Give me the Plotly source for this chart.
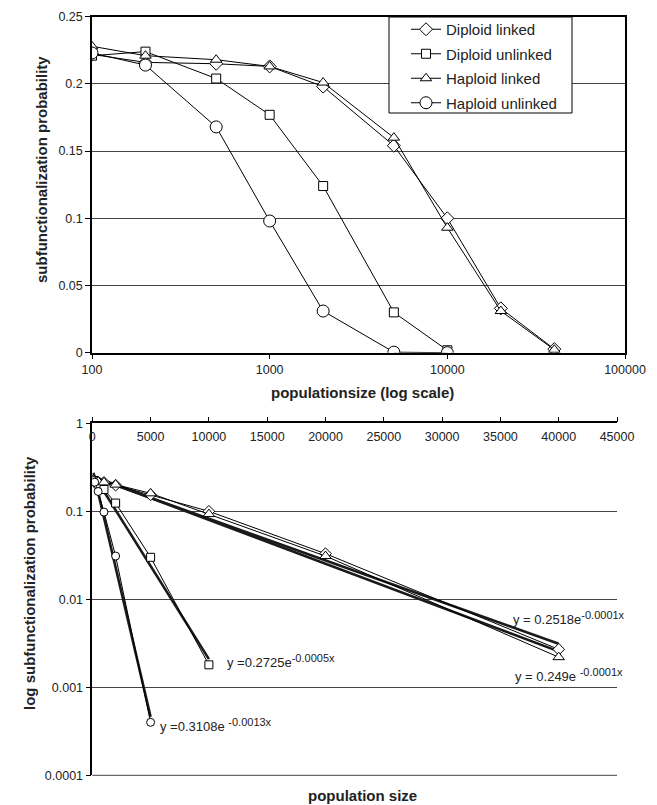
import numpy as np
import plotly.graph_objects as go

# ---------------- data ----------------
pop_linked = [100, 200, 500, 1000, 2000, 5000, 10000, 20000, 40000]
diploid_linked = [0.222, 0.216, 0.215, 0.213, 0.198, 0.154, 0.100, 0.033, 0.0027]
haploid_linked = [0.228, 0.221, 0.218, 0.213, 0.201, 0.160, 0.093, 0.031, 0.0022]

pop_unlinked = [100, 200, 500, 1000, 2000, 5000, 10000]
diploid_unlinked = [0.221, 0.224, 0.204, 0.177, 0.124, 0.030, 0.0018]
haploid_unlinked = [0.223, 0.214, 0.168, 0.098, 0.031, 0.0004, 0.0]

series_names = ["Diploid linked", "Diploid unlinked", "Haploid linked", "Haploid unlinked"]
top_xticks = [100, 1000, 10000, 100000]
top_xticklabels = ["100", "1000", "10000", "100000"]
bottom_yticks = [0.0001, 0.001, 0.01, 0.1, 1]
bottom_yticklabels = ["0.0001", "0.001", "0.01", "0.1", "1"]
trend_bases = ["y = 0.2518e", "y =0.2725e", "y = 0.249e ", "y =0.3108e "]
trend_exponents = ["-0.0001x", "-0.0005x", "-0.0001x", "-0.0013x"]

# page has an 8px body margin: figure pixel = screen pixel - 8
OFF = 8
W, H = 657 - OFF, 805 - OFF
FONT = "Liberation Sans, Arial, sans-serif"


def px_x(p):
    return (p - OFF) / W


def px_y(p):
    return 1 - (p - OFF) / H


xs = [pop_linked, pop_unlinked, pop_linked, pop_unlinked]
ys = [diploid_linked, diploid_unlinked, haploid_linked, haploid_unlinked]
symbols = ["diamond", "square", "triangle-up", "circle"]
top_sizes = [10, 9, 10, 12]
bot_sizes = [9, 8, 10, 8]

fig = go.Figure()

# ---------------- top chart ----------------
for name, x, y, sym, sz in zip(series_names, xs, ys, symbols, top_sizes):
    fig.add_trace(go.Scatter(
        x=x, y=y, name=name, mode="lines+markers", xaxis="x", yaxis="y",
        line=dict(color="black", width=1),
        marker=dict(symbol=sym, size=sz, color="white", line=dict(color="black", width=1)),
        legendgroup=name, showlegend=True,
    ))

# ---------------- bottom chart: exponential trendlines (least squares on ln y) ----------------
for name, x, y in zip(series_names, xs, ys):
    xa = np.array(x, dtype=float)
    ya = np.array(y, dtype=float)
    m = ya > 0
    b, a = np.polyfit(xa[m], np.log(ya[m]), 1)
    xt = np.linspace(xa[m].min(), xa[m].max(), 50)
    fig.add_trace(go.Scatter(
        x=xt, y=np.exp(a) * np.exp(b * xt), mode="lines", xaxis="x2", yaxis="y2",
        line=dict(color="#1a1a1a", width=2.6), showlegend=False, hoverinfo="skip",
    ))

# ---------------- bottom chart: data ----------------
for name, x, y, sym, sz in zip(series_names, xs, ys, symbols, bot_sizes):
    xa = np.array(x, dtype=float)
    ya = np.array(y, dtype=float)
    m = ya > 0
    fig.add_trace(go.Scatter(
        x=xa[m], y=ya[m], name=name, mode="lines+markers", xaxis="x2", yaxis="y2",
        line=dict(color="black", width=1),
        marker=dict(symbol=sym, size=sz, color="white", line=dict(color="black", width=1)),
        showlegend=False,
    ))

axis_common = dict(
    showline=True, linecolor="black", linewidth=1.5, automargin=False,
    ticks="outside", ticklen=5, tickcolor="black", tickwidth=1,
    tickfont=dict(family=FONT, size=12.5, color="#222"),
    zeroline=False,
)

fig.update_layout(
    template="none",
    width=W, height=H,
    margin=dict(l=0, r=0, t=0, b=0, pad=0),
    paper_bgcolor="white", plot_bgcolor="white",
    font=dict(family=FONT, color="#222"),
    xaxis=dict(
        domain=[px_x(92), px_x(625)], anchor="y", type="log", range=[2, 5],
        tickvals=top_xticks, ticktext=top_xticklabels, showgrid=False,
        mirror=True, **axis_common,
    ),
    yaxis=dict(
        domain=[px_y(352.7), px_y(16.7)], anchor="x", range=[0, 0.25], dtick=0.05,
        showgrid=True, gridcolor="#444", gridwidth=1, mirror=True, **axis_common,
    ),
    xaxis2=dict(
        domain=[px_x(92.3), px_x(617)], anchor="y2", range=[0, 45000], dtick=5000,
        tickformat="d", side="top", ticklabelposition="inside", ticklabeloverflow="allow",
        ticklabelstandoff=9, showgrid=False, **axis_common,
    ),
    yaxis2=dict(
        domain=[px_y(775.3), px_y(423.3)], anchor="x2", type="log", range=[-4, 0],
        tickvals=bottom_yticks, ticktext=bottom_yticklabels, ticklabeloverflow="allow",
        showgrid=True, gridcolor="#444", gridwidth=1, **axis_common,
    ),
    showlegend=True,
    legend=dict(
        x=px_x(406), y=px_y(13), xanchor="left", yanchor="top",
        bgcolor="rgba(0,0,0,0)", borderwidth=0,
        font=dict(family=FONT, size=15, color="#222"),
        tracegroupgap=2,
    ),
    shapes=[
        dict(type="rect", xref="paper", yref="paper",
             x0=px_x(389), x1=px_x(572), y0=px_y(113), y1=px_y(17),
             fillcolor="white", line=dict(color="black", width=1), layer="above"),
        dict(type="line", xref="paper", yref="paper",
             x0=px_x(92.3), x1=px_x(617), y0=px_y(775.3), y1=px_y(775.3),
             line=dict(color="#444", width=1)),
    ],
)

title_font = dict(family=FONT, size=15, color="#222")
annotations = [
    dict(text="<b>subfunctionalization probability</b>", x=px_x(42), y=px_y(170),
         textangle=-90, font=title_font),
    dict(text="<b>populationsize (log scale)</b>", x=px_x(362), y=px_y(392), font=title_font),
    dict(text="<b>log subfunctionalization probability</b>", x=px_x(29), y=px_y(583),
         textangle=-90, font=title_font),
    dict(text="<b>population size</b>", x=px_x(362), y=px_y(795), font=title_font),
]
for a in annotations:
    a["xanchor"] = "center"
    a["yanchor"] = "middle"
eq_pos = [(511, 618), (225, 661), (513, 675), (158, 725)]
for base, expo, (ex, ey) in zip(trend_bases, trend_exponents, eq_pos):
    txt = base + "<sup><span style='font-size:11px'>" + expo + "</span></sup>"
    annotations.append(dict(text=txt, x=px_x(ex), y=px_y(ey), xanchor="left", yanchor="middle",
                            font=dict(family=FONT, size=13, color="#222")))
for a in annotations:
    a.setdefault("xref", "paper")
    a.setdefault("yref", "paper")
    a.setdefault("showarrow", False)
fig.update_layout(annotations=annotations)

fig.write_html("out.html")
